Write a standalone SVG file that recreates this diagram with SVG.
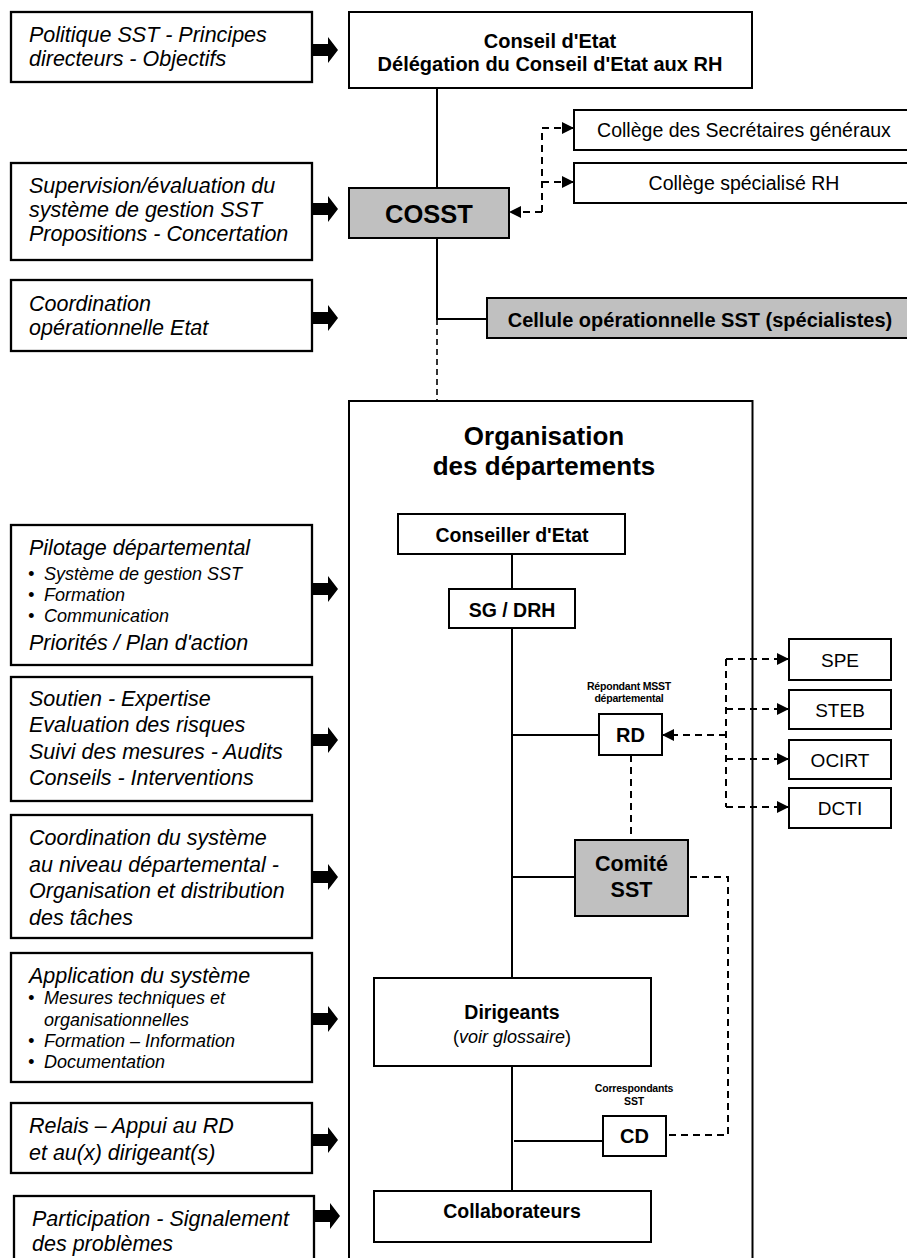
<svg xmlns="http://www.w3.org/2000/svg" width="907" height="1258" viewBox="0 0 907 1258">
<style>
text{font-family:"Liberation Sans",Arial,sans-serif;fill:#000}
.box{fill:#fff;stroke:#000;stroke-width:2}
.lbox{fill:#fff;stroke:#000;stroke-width:2.3}
.grey{fill:#c0c0c0;stroke:#000;stroke-width:2}
.it{font-style:italic;font-size:21.5px}
.bu{font-style:italic;font-size:18px}
.bd{font-weight:bold;text-anchor:middle}
.rg{text-anchor:middle}
.sm{font-weight:bold;font-size:10.5px;text-anchor:middle;letter-spacing:-0.2px}
.ln{fill:none;stroke:#000;stroke-width:2}
.ds{fill:none;stroke:#000;stroke-width:2;stroke-dasharray:7,5}
.dt{fill:none;stroke:#000;stroke-width:1.6;stroke-dasharray:6,4}
.blk{fill:#000}
</style>
<defs>
<marker id="ah" viewBox="0 0 12 12" refX="12" refY="6" markerWidth="12" markerHeight="12" markerUnits="userSpaceOnUse" orient="auto">
<path d="M0,0 L12,6 L0,12 z" fill="#000"/>
</marker>
<path id="blk" d="M0,-6 H16 V-13 L26,0 L16,13 V6 H0 z"/>
</defs>

<!-- Left function boxes -->
<g id="f1">
<rect class="lbox" x="11" y="12" width="301" height="70"/>
<text class="it" x="29" y="42">Politique SST - Principes</text>
<text class="it" x="29" y="66">directeurs - Objectifs</text>
</g>
<g id="f2">
<rect class="lbox" x="11" y="163" width="301" height="97"/>
<text class="it" x="29" y="193">Supervision/évaluation du</text>
<text class="it" x="29" y="217">système de gestion SST</text>
<text class="it" x="29" y="241">Propositions - Concertation</text>
</g>
<g id="f3">
<rect class="lbox" x="11" y="280" width="301" height="71"/>
<text class="it" x="29" y="311">Coordination</text>
<text class="it" x="29" y="335">opérationnelle Etat</text>
</g>
<g id="f4">
<rect class="lbox" x="11" y="525" width="301" height="140"/>
<text class="it" x="29" y="555">Pilotage départemental</text>
<text class="bu" x="28" y="580">•</text><text class="bu" x="44" y="580">Système de gestion SST</text>
<text class="bu" x="28" y="601">•</text><text class="bu" x="44" y="601">Formation</text>
<text class="bu" x="28" y="622">•</text><text class="bu" x="44" y="622">Communication</text>
<text class="it" x="29" y="650">Priorités / Plan d'action</text>
</g>
<g id="f5">
<rect class="lbox" x="11" y="677" width="301" height="124"/>
<text class="it" x="29" y="706">Soutien - Expertise</text>
<text class="it" x="29" y="732">Evaluation des risques</text>
<text class="it" x="29" y="759">Suivi des mesures - Audits</text>
<text class="it" x="29" y="785">Conseils - Interventions</text>
</g>
<g id="f6">
<rect class="lbox" x="11" y="815" width="301" height="123"/>
<text class="it" x="29" y="845">Coordination du système</text>
<text class="it" x="29" y="872">au niveau départemental -</text>
<text class="it" x="29" y="898">Organisation et distribution</text>
<text class="it" x="29" y="925">des tâches</text>
</g>
<g id="f7">
<rect class="lbox" x="11" y="953" width="301" height="129"/>
<text class="it" x="29" y="983">Application du système</text>
<text class="bu" x="28" y="1004">•</text><text class="bu" x="44" y="1004">Mesures techniques et</text>
<text class="bu" x="44" y="1026">organisationnelles</text>
<text class="bu" x="28" y="1047">•</text><text class="bu" x="44" y="1047">Formation – Information</text>
<text class="bu" x="28" y="1068">•</text><text class="bu" x="44" y="1068">Documentation</text>
</g>
<g id="f8">
<rect class="lbox" x="11" y="1103" width="301" height="70"/>
<text class="it" x="29" y="1133">Relais – Appui au RD</text>
<text class="it" x="29" y="1160">et au(x) dirigeant(s)</text>
</g>
<g id="f9">
<rect class="lbox" x="14" y="1196" width="300" height="100"/>
<text class="it" x="32" y="1226">Participation - Signalement</text>
<text class="it" x="32" y="1251">des problèmes</text>
</g>

<!-- Block arrows -->
<g id="blockarrows" class="blk">
<use href="#blk" x="312" y="50"/>
<use href="#blk" x="312" y="209"/>
<use href="#blk" x="312" y="318"/>
<use href="#blk" x="312" y="589"/>
<use href="#blk" x="312" y="740"/>
<use href="#blk" x="312" y="877"/>
<use href="#blk" x="312" y="1019"/>
<use href="#blk" x="312" y="1140"/>
<use href="#blk" x="314" y="1216"/>
</g>

<!-- Container -->
<g id="organisation">
<rect class="box" x="349" y="401" width="403.5" height="900"/>
<text class="bd" x="544" y="445" font-size="26">Organisation</text>
<text class="bd" x="544" y="475" font-size="26">des départements</text>
</g>

<!-- Connectors -->
<g id="connectors">
<path class="ln" d="M437,88 V188"/>
<path class="ln" d="M437,238 V319 H487"/>
<path class="dt" d="M437,319 V401"/>
<path class="ds" d="M542,212 H509" marker-end="url(#ah)"/>
<path class="ds" d="M542,212 V128 H574" marker-end="url(#ah)"/>
<path class="ds" d="M542,182 H574" marker-end="url(#ah)"/>
<path class="ln" d="M512,554 V589"/>
<path class="ln" d="M512,628 V978"/>
<path class="ln" d="M512,1066 V1191"/>
<path class="ln" d="M512,735 H599"/>
<path class="ln" d="M512,877 H575"/>
<path class="ln" d="M514,1141 H603"/>
<path class="ds" d="M726,735 H662" marker-end="url(#ah)"/>
<path class="ds" d="M726,659 V807"/>
<path class="ds" d="M726,659 H789" marker-end="url(#ah)"/>
<path class="ds" d="M726,709 H789" marker-end="url(#ah)"/>
<path class="ds" d="M726,759 H789" marker-end="url(#ah)"/>
<path class="ds" d="M726,807 H789" marker-end="url(#ah)"/>
<path class="ds" d="M631,755 V840"/>
<path class="ds" d="M690,877 H728 V1135 H666"/>
</g>

<!-- Central nodes -->
<g id="conseil">
<rect class="box" x="349" y="12" width="403" height="76"/>
<text class="bd" x="550" y="48" font-size="20">Conseil d'Etat</text>
<text class="bd" x="550" y="71" font-size="20">Délégation du Conseil d'Etat aux RH</text>
</g>
<g id="cosst">
<rect class="grey" x="349" y="188" width="160" height="50"/>
<text class="bd" x="429" y="223" font-size="25.5">COSST</text>
</g>
<g id="college-sg">
<rect class="box" x="574" y="110" width="340" height="40"/>
<text class="rg" x="744" y="137" font-size="19.5">Collège des Secrétaires généraux</text>
</g>
<g id="college-rh">
<rect class="box" x="574" y="163" width="340" height="40"/>
<text class="rg" x="744" y="190" font-size="19.5">Collège spécialisé RH</text>
</g>
<g id="cellule">
<rect class="grey" x="487" y="298" width="426" height="40"/>
<text class="bd" x="700" y="327" font-size="20">Cellule opérationnelle SST (spécialistes)</text>
</g>
<g id="conseiller">
<rect class="box" x="398" y="514" width="227" height="40"/>
<text class="bd" x="512" y="542" font-size="19.5">Conseiller d'Etat</text>
</g>
<g id="sgdrh">
<rect class="box" x="449" y="589" width="126" height="39"/>
<text class="bd" x="512" y="617" font-size="19.5">SG / DRH</text>
</g>
<g id="rd">
<text class="sm" x="629" y="690">Répondant MSST</text>
<text class="sm" x="629" y="702">départemental</text>
<rect class="box" x="599" y="714" width="63" height="41"/>
<text class="bd" x="630.5" y="742" font-size="20">RD</text>
</g>
<g id="spe">
<rect class="box" x="789" y="639" width="102" height="41"/>
<text class="rg" x="840" y="667" font-size="19">SPE</text>
</g>
<g id="steb">
<rect class="box" x="789" y="690" width="102" height="39"/>
<text class="rg" x="840" y="717" font-size="19">STEB</text>
</g>
<g id="ocirt">
<rect class="box" x="789" y="740" width="102" height="39"/>
<text class="rg" x="840" y="767" font-size="19">OCIRT</text>
</g>
<g id="dcti">
<rect class="box" x="789" y="788" width="102" height="40"/>
<text class="rg" x="840" y="815" font-size="19">DCTI</text>
</g>
<g id="comite">
<rect class="grey" x="575" y="840" width="113" height="76"/>
<text class="bd" x="631.5" y="871" font-size="21.5">Comité</text>
<text class="bd" x="631.5" y="897" font-size="21.5">SST</text>
</g>
<g id="dirigeants">
<rect class="box" x="374" y="978" width="277" height="88"/>
<text class="bd" x="512" y="1019" font-size="19.5">Dirigeants</text>
<text class="rg" x="512" y="1043" font-size="18">(<tspan font-style="italic">voir glossaire</tspan>)</text>
</g>
<g id="cd">
<text class="sm" x="634" y="1092">Correspondants</text>
<text class="sm" x="634" y="1105">SST</text>
<rect class="box" x="603" y="1116" width="63" height="40"/>
<text class="bd" x="634.5" y="1143" font-size="20">CD</text>
</g>
<g id="collaborateurs">
<rect class="box" x="374" y="1191" width="277" height="51"/>
<text class="bd" x="512" y="1218" font-size="19.5">Collaborateurs</text>
</g>
</svg>
